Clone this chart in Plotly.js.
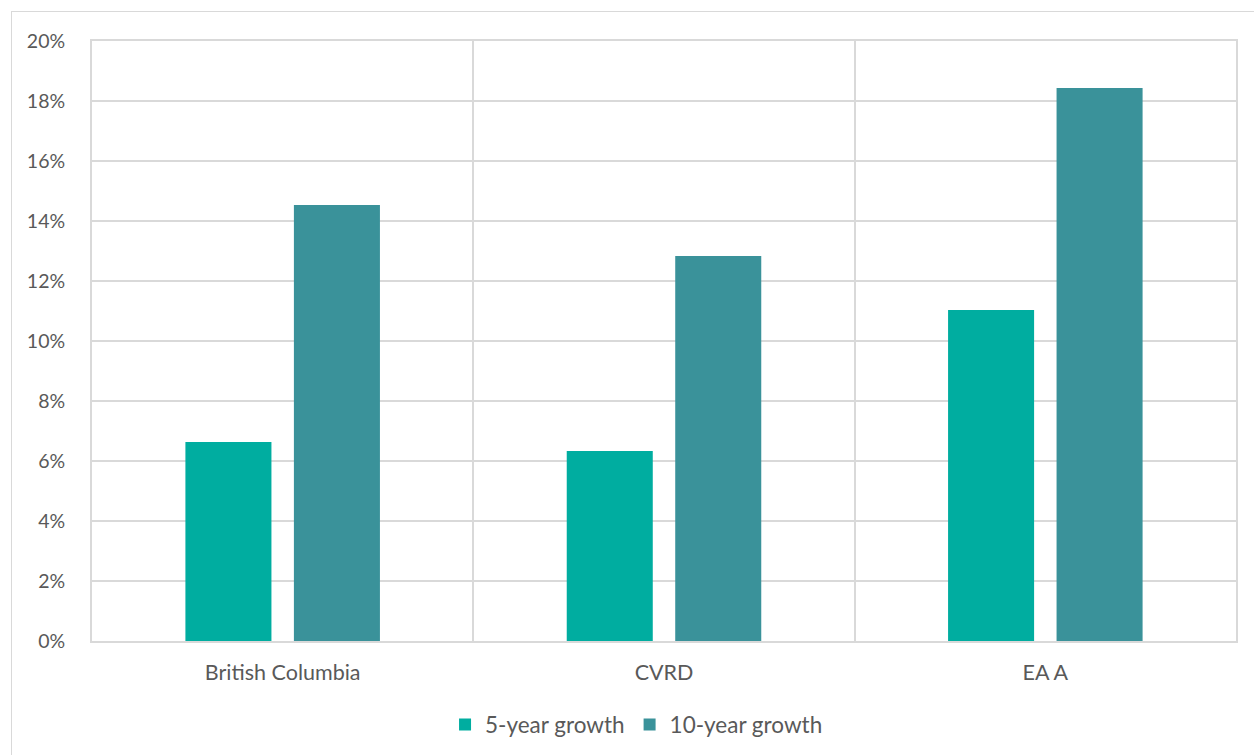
<!DOCTYPE html>
<html>
<head>
<meta charset="utf-8">
<script src="https://cdn.plot.ly/plotly-3.0.1.min.js"></script>
<style>
  html, body { margin: 0; padding: 0; background: #ffffff; overflow: hidden; }
  #frame { position: absolute; left: 11px; top: 11px; width: 1300px; height: 800px; border: 1.5px solid #d9d9d9; box-sizing: border-box; }
  #chart { position: absolute; left: 0; top: 0; width: 1254px; height: 755px; }
</style>
</head>
<body>
<div id="frame"></div>
<div id="chart"></div>
<script>
const categories = ["British Columbia", "CVRD", "EA A"];
const growth5 = [0.0663, 0.0633, 0.1103];
const growth10 = [0.1453, 0.1283, 0.1843];
const seriesNames = ["5-year growth", "10-year growth"];
const yTicks = [0, 0.02, 0.04, 0.06, 0.08, 0.10, 0.12, 0.14, 0.16, 0.18, 0.20];

const fontFam = "Lato, 'Open Sans', sans-serif";
const gridCol = "#d9d9d9";

const data = [
  { type: "bar", x: categories, y: growth5, name: seriesNames[0],
    marker: { color: "#00ada0" }, hoverinfo: "none" },
  { type: "bar", x: categories, y: growth10, name: seriesNames[1],
    marker: { color: "#3a929a" }, hoverinfo: "none" }
];

const layout = {
  width: 1254, height: 755,
  margin: { l: 92, r: 18, t: 41, b: 114, autoexpand: false },
  paper_bgcolor: "rgba(0,0,0,0)",
  plot_bgcolor: "rgba(0,0,0,0)",
  barmode: "group",
  bargap: 0.431,
  bargroupgap: 0.207,
  font: { family: fontFam, size: 19, color: "#595959" },
  xaxis: {
    type: "category",
    tickson: "boundaries",
    showgrid: true, gridcolor: gridCol, gridwidth: 2,
    showline: true, mirror: true, linecolor: gridCol, linewidth: 2,
    zeroline: false, automargin: false,
    ticks: "", ticklabelstandoff: 11,
    tickfont: { family: fontFam, size: 21.5, color: "#595959" }
  },
  yaxis: {
    range: [0, 0.20],
    tickvals: yTicks,
    tickformat: ".0%",
    showgrid: true, gridcolor: gridCol, gridwidth: 2,
    showline: true, mirror: true, linecolor: gridCol, linewidth: 2,
    zeroline: false, automargin: false,
    ticks: "", ticklabelstandoff: 21,
    tickfont: { family: fontFam, size: 19.5, color: "#595959" }
  },
  showlegend: true,
  legend: {
    orientation: "h", x: 0.476, xanchor: "center",
    yref: "container", y: 0.04, yanchor: "middle",
    font: { family: fontFam, size: 22.5, color: "#595959" },
    itemwidth: 30, traceorder: "normal"
  }
};

Plotly.newPlot("chart", data, layout, { displayModeBar: false, staticPlot: true });
</script>
</body>
</html>
